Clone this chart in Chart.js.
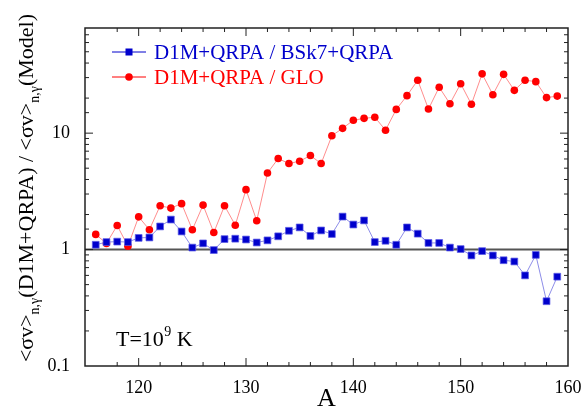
<!DOCTYPE html>
<html>
<head>
<meta charset="utf-8">
<script src="https://cdn.jsdelivr.net/npm/chart.js@4"></script>
<style>
  html, body { margin: 0; padding: 0; background: #fff; }
  #wrap { width: 585px; height: 415px; }
</style>
</head>
<body>
<div id="wrap"><canvas id="chart"></canvas></div>
<script>
// mass numbers
const massA = [116,117,118,119,120,121,122,123,124,125,126,127,128,129,130,131,132,133,134,135,136,137,
               138,139,140,141,142,143,144,145,146,147,148,149,150,151,152,153,154,155,156,157,158,159];

// D1M+QRPA / BSk7+QRPA
const ratioBSk7 = [1.10,1.16,1.17,1.16,1.26,1.27,1.58,1.81,1.43,1.04,1.13,0.99,1.23,1.24,1.22,1.15,1.20,1.30,1.45,1.55,1.31,1.46,
                   1.36,1.92,1.64,1.78,1.16,1.19,1.10,1.55,1.37,1.14,1.14,1.04,1.01,0.89,0.97,0.89,0.81,0.79,0.60,0.90,0.36,0.585];

// D1M+QRPA / GLO
const ratioGLO = [1.35,1.13,1.61,1.07,1.91,1.48,2.38,2.27,2.48,1.48,2.41,1.40,2.38,1.62,3.27,1.77,4.54,6.05,5.48,5.74,6.42,5.48,
                  9.5,11.0,12.9,13.4,13.7,10.6,16.0,21.0,28.5,16.1,24.8,17.9,26.6,17.7,32.3,21.4,32.0,23.3,28.5,27.7,20.2,20.8];

const seriesNames = ["D1M+QRPA / BSk7+QRPA", "D1M+QRPA / GLO"];
const yLabelsShown = [0.1, 1, 10];

const BLUE = "#0000cc";
const RED = "#ff0000";
const SERIF = "Liberation Serif, Times New Roman, Tinos, DejaVu Serif, Noto Serif, FreeSerif, Times, serif";

function isPow10(v) {
    const l = Math.log10(v);
    return Math.abs(l - Math.round(l)) < 1e-6;
}

// frame, inward ticks, reference line, legend and annotations
const decorPlugin = {
    id: "decor",
    beforeDatasetsDraw(chart) {
        const ctx = chart.ctx;
        const a = chart.chartArea;
        const y1 = chart.scales.y.getPixelForValue(1);
        ctx.save();
        ctx.strokeStyle = "#555";
        ctx.lineWidth = 2;
        ctx.beginPath();
        ctx.moveTo(a.left, y1);
        ctx.lineTo(a.right, y1);
        ctx.stroke();
        ctx.restore();
    },
    afterDraw(chart) {
        const ctx = chart.ctx;
        const a = chart.chartArea;
        const xs = chart.scales.x;
        const ys = chart.scales.y;
        ctx.save();

        // frame
        ctx.strokeStyle = "#222";
        ctx.lineWidth = 1.5;
        ctx.strokeRect(a.left, a.top, a.right - a.left, a.bottom - a.top);

        // ticks
        ctx.lineWidth = 1;
        ctx.beginPath();
        xs.ticks.forEach(t => {
            if (t.value <= xs.min || t.value >= xs.max) return;
            const px = xs.getPixelForValue(t.value);
            const len = t.value % 10 === 0 ? 8 : 4;
            ctx.moveTo(px, a.bottom); ctx.lineTo(px, a.bottom - len);
            ctx.moveTo(px, a.top); ctx.lineTo(px, a.top + len);
        });
        ys.ticks.forEach(t => {
            if (t.value <= ys.min || t.value >= ys.max) return;
            const py = ys.getPixelForValue(t.value);
            const len = isPow10(t.value) ? 8 : 4;
            ctx.moveTo(a.left, py); ctx.lineTo(a.left + len, py);
            ctx.moveTo(a.right, py); ctx.lineTo(a.right - len, py);
        });
        ctx.stroke();

        // legend
        const rows = [
            { name: seriesNames[0], color: BLUE, style: "rect", y: 52 },
            { name: seriesNames[1], color: RED, style: "circle", y: 77 }
        ];
        ctx.font = "21px " + SERIF;
        ctx.textBaseline = "middle";
        ctx.textAlign = "left";
        rows.forEach(r => {
            ctx.strokeStyle = r.color;
            ctx.lineWidth = 1;
            ctx.beginPath();
            ctx.moveTo(112, r.y); ctx.lineTo(146, r.y);
            ctx.stroke();
            ctx.fillStyle = r.color;
            if (r.style === "rect") {
                ctx.fillRect(125.5, r.y - 3.5, 7, 7);
            } else {
                ctx.beginPath();
                ctx.arc(129, r.y, 3.8, 0, Math.PI * 2);
                ctx.fill();
            }
            ctx.fillText(r.name, 154, r.y + 1);
        });

        // temperature label
        ctx.fillStyle = "#000";
        ctx.textBaseline = "alphabetic";
        ctx.font = "22px " + SERIF;
        let tx = 116;
        ctx.fillText("T=10", tx, 346);
        tx += ctx.measureText("T=10").width;
        ctx.font = "14px " + SERIF;
        ctx.fillText("9", tx + 0.5, 336);
        tx += ctx.measureText("9").width + 6;
        ctx.font = "22px " + SERIF;
        ctx.fillText("K", tx, 346);

        // y axis title with subscripts
        const parts = [
            ["<σv>", false], ["n,γ", true], ["(D1M+QRPA) / <σv>", false], ["n,γ", true], ["(Model)", false]
        ];
        const bigFont = "22px " + SERIF, smallFont = "14px " + SERIF;
        let total = 0;
        parts.forEach(p => { ctx.font = p[1] ? smallFont : bigFont; total += ctx.measureText(p[0]).width; });
        ctx.translate(33, 188);
        ctx.rotate(-Math.PI / 2);
        let cx = -total / 2;
        parts.forEach(p => {
            ctx.font = p[1] ? smallFont : bigFont;
            ctx.fillText(p[0], cx, p[1] ? 6 : 0);
            cx += ctx.measureText(p[0]).width;
        });
        ctx.restore();
    }
};

new Chart(document.getElementById("chart"), {
    type: "line",
    data: {
        labels: massA,
        datasets: [
            {
                label: seriesNames[0],
                data: massA.map((a, i) => ({ x: a, y: ratioBSk7[i] })),
                borderColor: "rgba(0,0,204,0.45)",
                borderWidth: 1,
                backgroundColor: BLUE,
                pointStyle: "rect",
                pointRadius: 4.8,
                pointBorderWidth: 0.8,
                pointBorderColor: "rgba(90,90,230,0.9)",
                tension: 0
            },
            {
                label: seriesNames[1],
                data: massA.map((a, i) => ({ x: a, y: ratioGLO[i] })),
                borderColor: "rgba(255,0,0,0.45)",
                borderWidth: 1,
                backgroundColor: RED,
                pointStyle: "circle",
                pointRadius: 3.8,
                pointBorderWidth: 0,
                tension: 0
            }
        ]
    },
    options: {
        responsive: true,
        maintainAspectRatio: false,
        animation: false,
        layout: { padding: { top: 28, right: 17, left: 0, bottom: 0 } },
        plugins: { legend: { display: false }, tooltip: { enabled: false } },
        scales: {
            x: {
                type: "linear",
                min: 115,
                max: 160,
                grid: { display: false },
                border: { display: false },
                afterFit: s => { s.height = 49; },
                ticks: {
                    stepSize: 2,
                    autoSkip: false,
                    maxRotation: 0,
                    padding: 3,
                    color: "#000",
                    font: { family: SERIF, size: 18 },
                    callback: v => (v % 10 === 0 ? String(v) : "")
                },
                title: {
                    display: true,
                    text: "A",
                    color: "#000",
                    font: { family: SERIF, size: 26 },
                    padding: { top: -6, bottom: 0 }
                }
            },
            y: {
                type: "logarithmic",
                min: 0.1,
                max: 80,
                grid: { display: false },
                border: { display: false },
                afterFit: s => { s.width = 85; },
                ticks: {
                    autoSkip: false,
                    padding: 7,
                    color: "#000",
                    font: { family: SERIF, size: 18 },
                    callback: v => (yLabelsShown.some(t => Math.abs(t - v) < 1e-9) ? String(v) : "")
                }
            }
        }
    },
    plugins: [decorPlugin]
});
</script>
</body>
</html>
